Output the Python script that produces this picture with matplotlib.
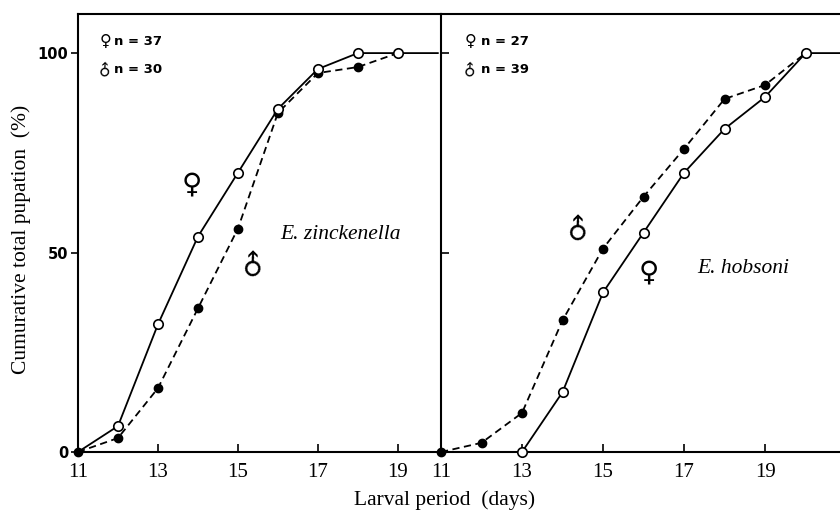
import matplotlib.pyplot as plt

# E. zinckenella (left panel)
zin_days_f = [11, 12, 13, 14, 15, 16, 17, 18, 19, 20]
zin_female = [0, 6.5, 32, 54, 70, 86, 96, 100, 100, 100]
zin_days_m = [11, 12, 13, 14, 15, 16, 17, 18, 19]
zin_male = [0, 3.5, 16, 36, 56, 85, 95, 96.5, 100]

# E. hobsoni (right panel)
hob_days_f = [13, 14, 15, 16, 17, 18, 19, 20, 21]
hob_female = [0, 15, 40, 55, 70, 81, 89, 100, 100]
hob_days_m = [11, 12, 13, 14, 15, 16, 17, 18, 19, 20]
hob_male = [0, 2.3, 9.8, 33, 51, 64, 76, 88.5, 92, 100]

x_ticks = [11, 13, 15, 17, 19]
y_ticks = [0, 50, 100]

serif = 'Liberation Serif'
sans = 'DejaVu Sans'

fig = plt.figure(figsize=(8.4, 5.17), dpi=100)
ax1 = fig.add_axes([78 / 840, 65 / 517, 363 / 840, 438 / 517])
ax2 = fig.add_axes([441 / 840, 65 / 517, 399 / 840, 438 / 517])

ymax = 109.8


def draw(ax, df, f, dm, m, nf, nm, name, name_xy, fsym, msym):
    ax.plot(dm, m, color='black', lw=1.3, ls=(0, (4, 2.5)), marker='o',
            ms=6, mfc='black', mec='black', clip_on=False, zorder=3)
    ax.plot(df, f, color='black', lw=1.3, ls='-', marker='o', ms=6.8,
            mfc='white', mec='black', mew=1.2,
            markevery=list(range(1, len(df) - 1)) if df[0] == 11 else list(range(0, len(df) - 1)),
            clip_on=False, zorder=4)
    ax.set_ylim(0, ymax)
    ax.set_xticks(x_ticks)
    ax.set_xticklabels([str(t) for t in x_ticks], fontfamily=serif, fontsize=15)
    ax.tick_params(axis='x', direction='in', length=6, width=1.2, pad=8)
    for s in ax.spines.values():
        s.set_linewidth(1.5)
    # legend text
    ax.text(0.075, 0.938, '\u2640', transform=ax.transAxes, fontfamily=sans,
            fontsize=11.5, ha='center', va='center')
    ax.text(0.075, 0.874, '\u2642', transform=ax.transAxes, fontfamily=sans,
            fontsize=11.5, ha='center', va='center', rotation=45, rotation_mode='anchor')
    ax.text(0.1, 0.938, 'n = %d' % nf, transform=ax.transAxes, fontfamily=sans,
            fontweight='bold', fontsize=9.5, ha='left', va='center')
    ax.text(0.1, 0.874, 'n = %d' % nm, transform=ax.transAxes, fontfamily=sans,
            fontweight='bold', fontsize=9.5, ha='left', va='center')
    ax.text(name_xy[0], name_xy[1], name, fontfamily=serif, style='italic',
            fontsize=15.5, ha='left', va='center')
    ax.text(fsym[0], fsym[1], '\u2640', fontfamily=sans, fontsize=20,
            ha='center', va='center')
    ax.text(msym[0], msym[1], '\u2642', fontfamily=sans, fontsize=20,
            ha='center', va='center', rotation=45, rotation_mode='anchor')


draw(ax1, zin_days_f, zin_female, zin_days_m, zin_male, 37, 30,
     'E. zinckenella', (16.05, 54.4), (13.85, 67), (15.4, 47))
ax1.set_xlim(11, 20.08)
ax1.set_yticks(y_ticks)
ax1.set_yticklabels([str(t) for t in y_ticks], fontfamily=sans,
                    fontweight='bold', fontsize=10.5)
ax1.tick_params(axis='y', direction='out', length=5, width=1.2, pad=2)
ax1.spines['right'].set_visible(False)

draw(ax2, hob_days_f, hob_female, hob_days_m, hob_male, 27, 39,
     'E. hobsoni', (17.32, 46), (16.14, 45), (14.41, 56))
ax2.set_xlim(11, 20.85)
ax2.set_yticks([50, 100])
ax2.set_yticklabels([])
ax2.tick_params(axis='y', direction='in', length=6, width=1.2)
ax2.spines['right'].set_visible(False)

fig.text(445 / 840, 1 - 500 / 517, 'Larval period  (days)', fontfamily=serif,
         fontsize=15.5, ha='center', va='center')
fig.text(21 / 840, 1 - 239 / 517, 'Cumurative total pupation  (%)', fontfamily=serif,
         fontsize=15.5, ha='center', va='center', rotation=90)

fig.savefig('out.png', dpi=100, facecolor='white')
